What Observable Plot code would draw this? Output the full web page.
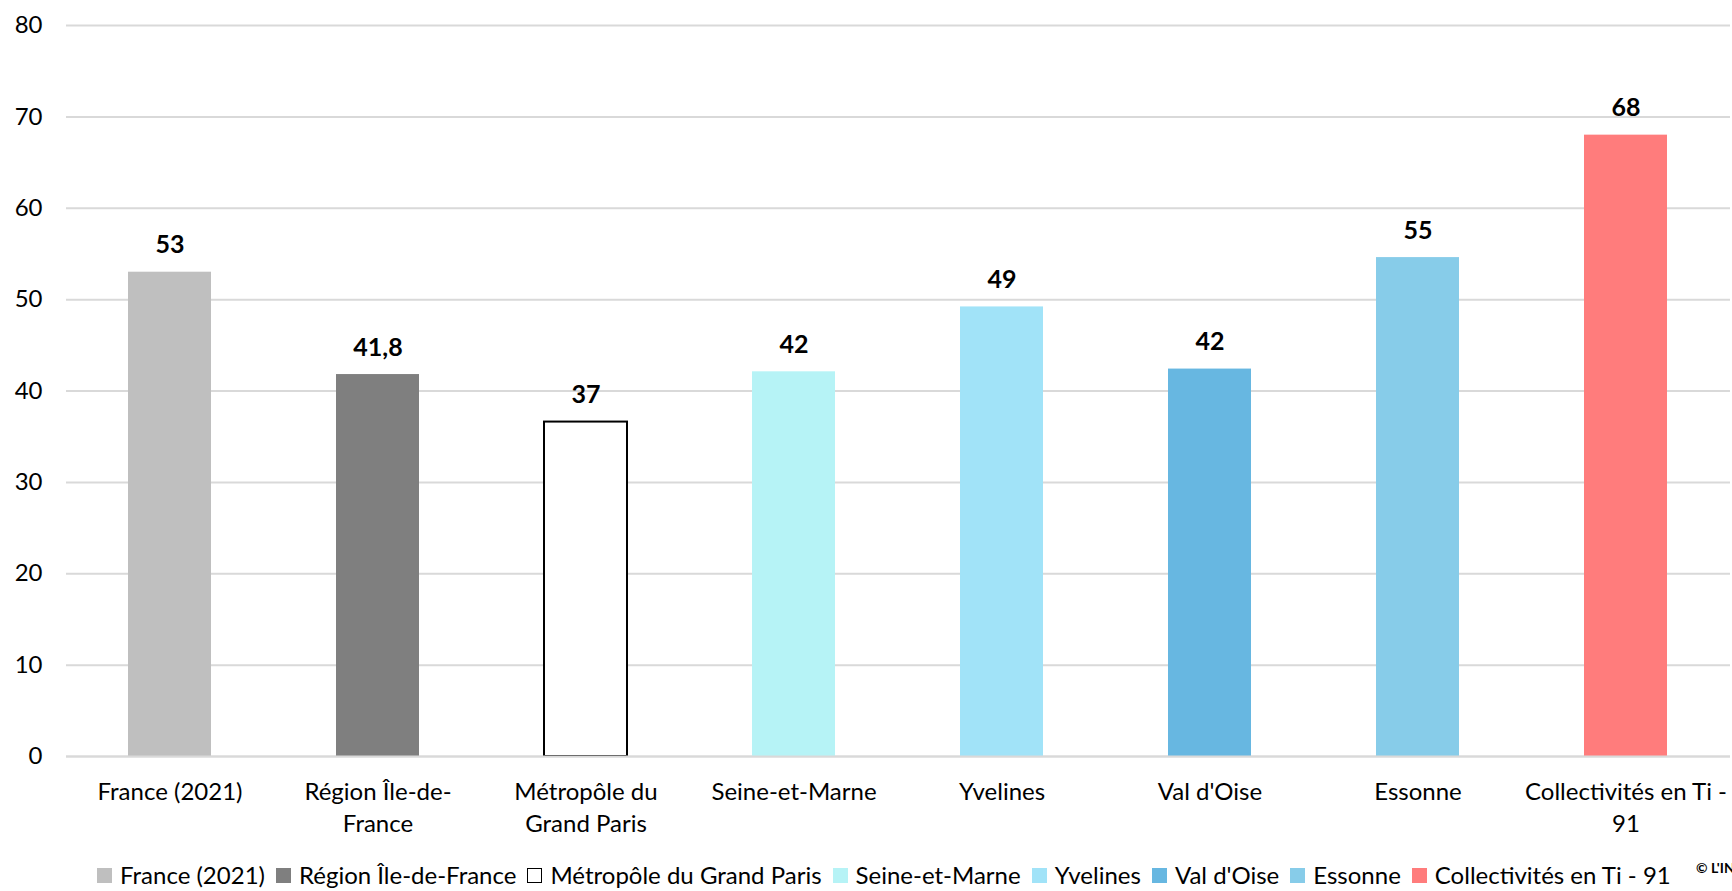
<!DOCTYPE html>
<html>
<head>
<meta charset="utf-8">
<script src="https://cdn.jsdelivr.net/npm/d3@7"></script>
<script src="https://cdn.jsdelivr.net/npm/@observablehq/plot@0.6"></script>
<style>
  html, body { margin: 0; padding: 0; background: #fff; }
  #wrap { position: relative; width: 1732px; height: 891px; overflow: hidden; font-family: Lato, "Noto Sans", sans-serif; }
  #legend { position: absolute; left: 97px; top: 863px; height: 24px; line-height: 24px; display: flex; align-items: center; white-space: nowrap; font-size: 24px; color: #000; }
  .item { display: flex; align-items: center; margin-right: 11px; }
  .sw { width: 15px; height: 15px; margin-right: 8px; box-sizing: border-box; }
  #copy { position: absolute; left: 1696px; top: 859px; font-size: 14px; font-weight: bold; white-space: nowrap; color: #000; }
</style>
</head>
<body>
<div id="wrap">
  <div id="chart"></div>
  <div id="legend"></div>
  <div id="copy">© L'INSEE</div>
</div>
<script>
const categories = ["France (2021)", "Région Île-de-France", "Métropôle du Grand Paris", "Seine-et-Marne", "Yvelines", "Val d'Oise", "Essonne", "Collectivités en Ti - 91"];
const values = [53, 41.8, 36.6, 42.1, 49.2, 42.4, 54.6, 68];
const valueLabels = ["53", "41,8", "37", "42", "49", "42", "55", "68"];
const axisLabels = ["France (2021)", "Région Île-de-\nFrance", "Métropôle du\nGrand Paris", "Seine-et-Marne", "Yvelines", "Val d'Oise", "Essonne", "Collectivités en Ti -\n91"];
const yTicks = [0, 10, 20, 30, 40, 50, 60, 70, 80];
const fills = ["#BFBFBF", "#7F7F7F", "#FFFFFF", "#B6F3F6", "#A1E3F8", "#67B7E1", "#87CCE9", "#FF7C7C"];
const strokes = ["none", "none", "#000000", "none", "none", "none", "none", "none"];

const data = categories.map((c, i) => ({cat: c, value: values[i], label: valueLabels[i], fill: fills[i], stroke: strokes[i]}));
const labelOf = new Map(categories.map((c, i) => [c, axisLabels[i]]));

const chart = Plot.plot({
  width: 1732,
  height: 862,
  marginTop: 25,
  marginBottom: 106,
  marginLeft: 66,
  marginRight: 2,
  style: {fontFamily: "Lato, 'Noto Sans', sans-serif", background: "#fff", color: "#000"},
  x: {domain: categories, paddingInner: 0.6, paddingOuter: 0.3, label: null},
  y: {domain: [0, 80], label: null},
  marks: [
    Plot.gridY(yTicks, {stroke: "#D9D9D9", strokeOpacity: 1, strokeWidth: 2}),
    Plot.barY(data, {x: "cat", y: "value", fill: d => d.fill, stroke: d => d.stroke, strokeWidth: 2, inset: 0}),
    Plot.ruleY([0], {stroke: "#D9D9D9", strokeWidth: 2}),
    Plot.text(data, {x: "cat", y: "value", text: "label", dy: -19, lineAnchor: "bottom", fontSize: 25, fontWeight: "bold", fill: "#000"}),
    Plot.axisY(yTicks, {tickSize: 0, tickPadding: 24, fontSize: 24, label: null}),
    Plot.axisX({tickSize: 0, tickPadding: 21, fontSize: 24, lineHeight: 1.34, tickFormat: d => labelOf.get(d), label: null})
  ]
});
document.getElementById("chart").appendChild(chart);

const legend = document.getElementById("legend");
data.forEach(d => {
  const item = document.createElement("div");
  item.className = "item";
  const sw = document.createElement("div");
  sw.className = "sw";
  sw.style.background = d.fill;
  if (d.stroke !== "none") sw.style.border = "1.5px solid " + d.stroke;
  const t = document.createElement("span");
  t.textContent = d.cat;
  item.appendChild(sw);
  item.appendChild(t);
  legend.appendChild(item);
});
</script>
</body>
</html>
